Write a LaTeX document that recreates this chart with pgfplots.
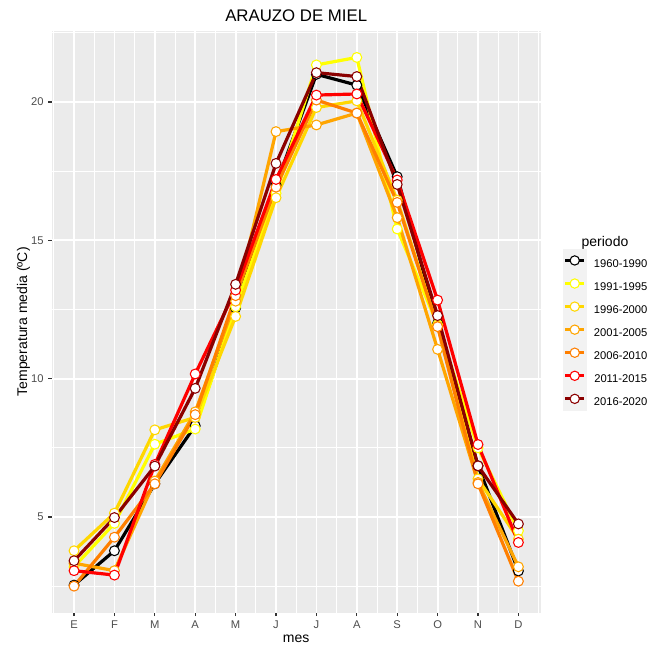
\documentclass[border=0pt]{standalone}
\usepackage{pgfplots}
\pgfplotsset{compat=1.18}
\usepackage{pgfplotstable}
\usepackage{fontspec}
\setmainfont{Liberation Sans}

\definecolor{panelbg}{HTML}{EBEBEB}
\definecolor{keybg}{HTML}{F2F2F2}
\definecolor{tickc}{HTML}{333333}
\definecolor{labc}{HTML}{4D4D4D}
\definecolor{c1}{HTML}{000000}
\definecolor{c2}{HTML}{FFFF00}
\definecolor{c3}{HTML}{FFD700}
\definecolor{c4}{HTML}{FFA500}
\definecolor{c5}{HTML}{FF7F00}
\definecolor{c6}{HTML}{FF0000}
\definecolor{c7}{HTML}{8B0000}

% mean temperature per month, one column per period
\pgfplotstableread{
m  s1    s2    s3    s4    s5    s6    s7
1  2.54  3.20  3.78  3.33  2.50  3.06  3.42
2  3.78  4.77  5.14  3.06  4.27  2.90  4.98
3  6.20  7.63  8.15  6.30  6.20  6.90  6.84
4  8.30  8.18  8.60  8.80  8.70  10.17 9.65
5  12.55 12.60 12.25 12.80 13.00 13.20 13.41
6  17.00 16.70 16.54 18.93 16.92 17.20 17.78
7  21.00 21.34 19.80 19.17 20.07 20.25 21.06
8  20.61 21.61 20.04 19.60 19.60 20.29 20.92
9  17.30 15.41 16.45 15.82 16.37 17.18 17.02
10 12.00 11.95 11.90 11.06 11.88 12.84 12.28
11 6.85  7.50  6.38  6.25  6.20  7.62  6.85
12 3.05  4.50  4.20  3.20  2.68  4.08  4.75
}\temps

\begin{document}
\begin{tikzpicture}
\begin{axis}[
  scale only axis,
  width=366.6pt, height=436.3pt,
  xmin=0.45, xmax=12.55,
  ymin=1.544, ymax=22.57,
  clip=false,
  axis background/.style={fill=panelbg},
  axis line style={draw=none},
  grid=both,
  major grid style={white, line width=1.35pt},
  minor grid style={white, line width=0.68pt},
  xtick={1,...,12},
  xticklabels={E,F,M,A,M,J,J,A,S,O,N,D},
  minor xtick={0.5,1.5,...,12.5},
  ytick={5,10,15,20},
  minor ytick={2.5,7.5,12.5,17.5,22.5},
  xtick pos=bottom, ytick pos=left,
  tick align=outside,
  major tick length=2.6pt,
  minor tick length=0pt,
  tick style={tickc, line width=0.9pt},
  ticklabel style={font=\fontsize{8.4}{10}\selectfont, text=labc},
  /pgf/number format/assume math mode=true,
  legend style={at={(rel axis cs:1.0458,0.6252)}, anchor=north west,
    draw=none, fill=none, inner sep=0pt, outer sep=0pt, row sep=0pt,
    nodes={inner sep=0pt, font=\fontsize{8.4}{10}\selectfont},
    /tikz/every odd column/.append style={column sep=5.5pt}},
]
\pgfplotsinvokeforeach{1,...,7}{
  \addplot[c#1, line width=2.4pt, forget plot] table[x=m, y=s#1] {\temps};
}
\pgfplotsinvokeforeach{1,...,7}{
  \addplot[only marks, mark=*, mark size=3.7pt,
    mark options={draw=c#1, fill=white, line width=0.8pt},
    legend image code/.code={
      \fill[keybg] (0pt,-5.45pt) rectangle (17.25pt,11.45pt);
      \draw[c#1, line width=2.4pt] (1.5pt,3pt) -- (15.75pt,3pt);
      \draw[c#1, fill=white, line width=0.8pt] (8.6pt,3pt) circle (3.5pt);
    }] table[x=m, y=s#1] {\temps};
}
\legend{1960-1990,1991-1995,1996-2000,2001-2005,2006-2010,2011-2015,2016-2020}
\path (rel axis cs:-0.106,-0.0572) rectangle (rel axis cs:1.2381,1.0531);
\node[anchor=base, font=\fontsize{12.6}{14}\selectfont] at (rel axis cs:0.5,1.0153) {ARAUZO DE MIEL};
\node[anchor=base, font=\fontsize{10.5}{12}\selectfont] at (rel axis cs:0.5,-0.0515) {mes};
\node[anchor=base, rotate=90, font=\fontsize{10.5}{12}\selectfont] at (rel axis cs:-0.0507,0.5) {Temperatura media (ºC)};
\node[anchor=base, font=\fontsize{10.5}{12}\selectfont] at (rel axis cs:1.1317,0.6286) {periodo};
\end{axis}
\end{tikzpicture}
\end{document}
